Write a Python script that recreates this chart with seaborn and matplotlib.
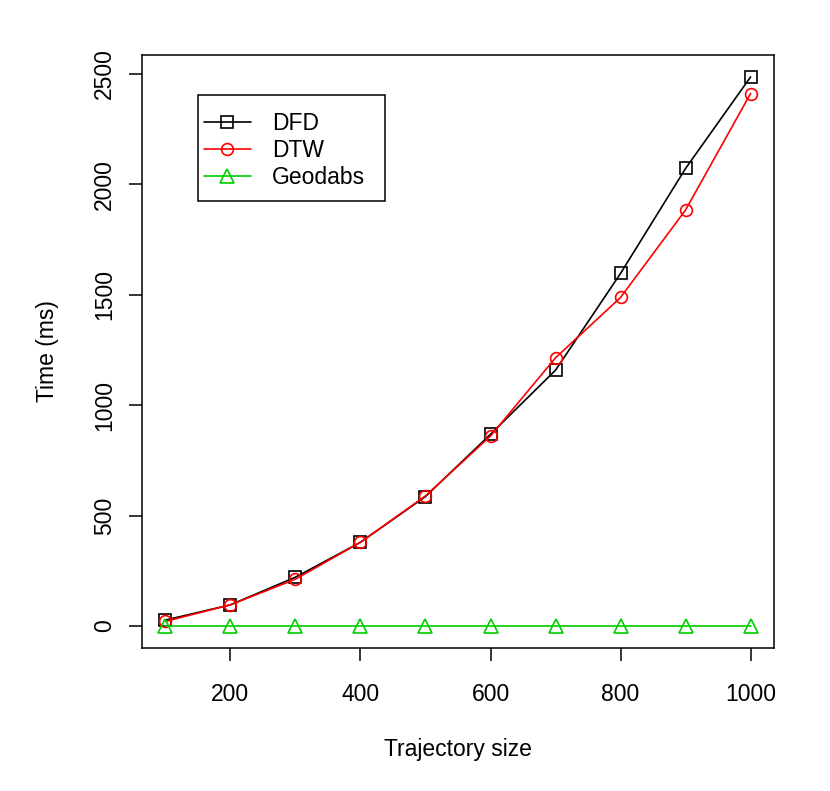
import matplotlib
matplotlib.use("Agg")
import matplotlib.pyplot as plt
from matplotlib.patches import Rectangle
import seaborn as sns
import pandas as pd

sizes = [100, 200, 300, 400, 500, 600, 700, 800, 900, 1000]
dfd = [27, 96, 221, 379, 586, 868, 1158, 1596, 2071, 2485]
dtw = [21, 96, 212, 379, 589, 860, 1214, 1487, 1883, 2410]
geodabs = [1, 1, 1, 1, 1, 1, 1, 1, 1, 1]
x_ticks = [200, 400, 600, 800, 1000]
y_ticks = [0, 500, 1000, 1500, 2000, 2500]

sns.set_theme(style="white")
plt.rcParams['font.family'] = ['Liberation Sans', 'DejaVu Sans']
plt.rcParams['text.color'] = 'black'
plt.rcParams['axes.labelcolor'] = 'black'

FS = 16.5
W, H = 830, 791
fig = plt.figure(figsize=(W/100, H/100), dpi=100)
L, R, T, B = 142, 774, 55, 648
ax = fig.add_axes([L/W, 1-B/H, (R-L)/W, (B-T)/H])

df = pd.DataFrame({"size": sizes, "DFD": dfd, "DTW": dtw, "Geodabs": geodabs})

series = [("DFD", "black", "s", 8), ("DTW", "#FF0000", "o", 8.5), ("Geodabs", "#00CD00", "^", 9.5)]
for name, col, mk, ms in series:
    sns.lineplot(data=df, x="size", y=name, ax=ax, color=col, marker=mk,
                 markersize=ms, markerfacecolor="none", markeredgecolor=col,
                 markeredgewidth=1.2, linewidth=1.2, label=name)

ax.set_xlim(64, 1036)
ax.set_ylim(-0.04*2485, 2485*1.04)
ax.set_xticks(x_ticks)
ax.set_yticks(y_ticks)
ax.set_xticklabels([str(v) for v in x_ticks])
ax.set_yticklabels([str(v) for v in y_ticks], rotation=90, va="center")
ax.tick_params(axis="both", direction="out", length=9.5, width=1.1, color="black",
               labelsize=FS, labelcolor="black", bottom=True, left=True)
ax.tick_params(axis="x", pad=15.5)
ax.tick_params(axis="y", pad=9.0)
for s in ax.spines.values():
    s.set_visible(True)
    s.set_color("black")
    s.set_linewidth(1.1)
ax.set_xlabel("Trajectory size", fontsize=FS, color="black", labelpad=23.5)
ax.set_ylabel("Time (ms)", fontsize=FS, color="black", labelpad=25)
ax.grid(False)

# legend frame
lx0, lx1, ly0, ly1 = 198, 385, 95, 201
ax.add_patch(Rectangle(((lx0-L)/(R-L), (B-ly1)/(B-T)), (lx1-lx0)/(R-L), (ly1-ly0)/(B-T),
                       transform=ax.transAxes, facecolor="white", edgecolor="black",
                       linewidth=1.1, zorder=4.5, clip_on=False))
leg = ax.legend(loc="upper left", bbox_to_anchor=((204-L)/(R-L), (B-112)/(B-T)),
                frameon=False, fontsize=FS, handlelength=2.04,
                handletextpad=0.94, borderpad=0, labelspacing=0.17, borderaxespad=0)
leg.set_zorder(5)
for t in leg.get_texts():
    t.set_color("black")

fig.savefig("out.png", dpi=100, facecolor="white")
